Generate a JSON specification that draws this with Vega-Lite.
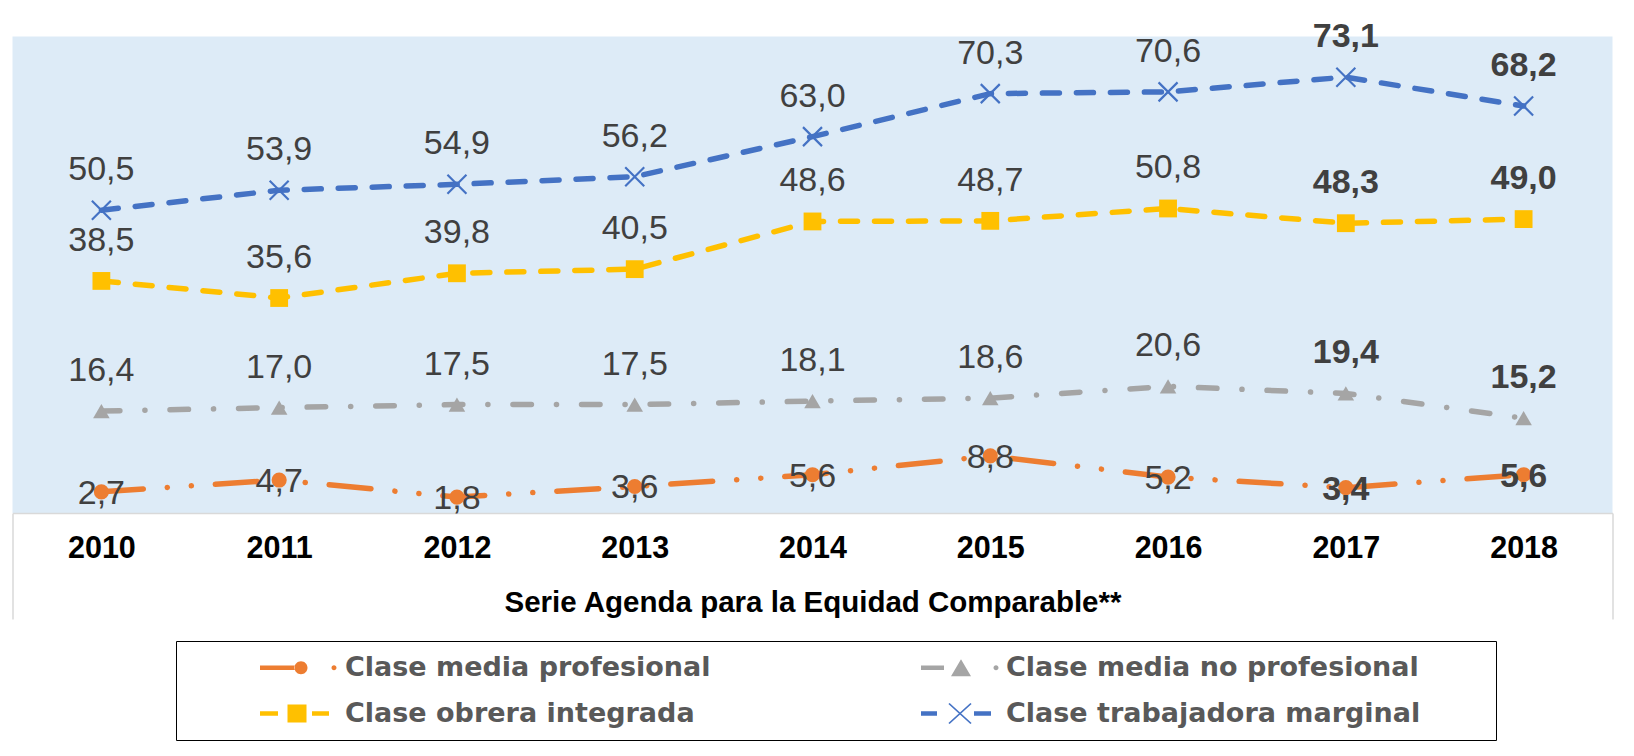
{
  "$schema": "https://vega.github.io/schema/vega-lite/v6.json",
  "width": 1600,
  "height": 476.5,
  "autosize": {"type": "none"},
  "padding": {"left": 12.5, "top": 36.5, "right": 21.5, "bottom": 243},
  "background": "#ffffff",
  "config": {
    "view": {"stroke": null, "fill": "#DDEBF7"},
    "locale": {"number": {"decimal": ",", "thousands": ".", "grouping": [3], "currency": ["", " €"]}}
  },
  "data": {
    "values": [
      {"year": 2010, "serie": "Clase trabajadora marginal", "value": 50.5},
      {"year": 2011, "serie": "Clase trabajadora marginal", "value": 53.9},
      {"year": 2012, "serie": "Clase trabajadora marginal", "value": 54.9},
      {"year": 2013, "serie": "Clase trabajadora marginal", "value": 56.2},
      {"year": 2014, "serie": "Clase trabajadora marginal", "value": 63.0},
      {"year": 2015, "serie": "Clase trabajadora marginal", "value": 70.3},
      {"year": 2016, "serie": "Clase trabajadora marginal", "value": 70.6},
      {"year": 2017, "serie": "Clase trabajadora marginal", "value": 73.1},
      {"year": 2018, "serie": "Clase trabajadora marginal", "value": 68.2},
      {"year": 2010, "serie": "Clase obrera integrada", "value": 38.5},
      {"year": 2011, "serie": "Clase obrera integrada", "value": 35.6},
      {"year": 2012, "serie": "Clase obrera integrada", "value": 39.8},
      {"year": 2013, "serie": "Clase obrera integrada", "value": 40.5},
      {"year": 2014, "serie": "Clase obrera integrada", "value": 48.6},
      {"year": 2015, "serie": "Clase obrera integrada", "value": 48.7},
      {"year": 2016, "serie": "Clase obrera integrada", "value": 50.8},
      {"year": 2017, "serie": "Clase obrera integrada", "value": 48.3},
      {"year": 2018, "serie": "Clase obrera integrada", "value": 49.0},
      {"year": 2010, "serie": "Clase media no profesional", "value": 16.4},
      {"year": 2011, "serie": "Clase media no profesional", "value": 17.0},
      {"year": 2012, "serie": "Clase media no profesional", "value": 17.5},
      {"year": 2013, "serie": "Clase media no profesional", "value": 17.5},
      {"year": 2014, "serie": "Clase media no profesional", "value": 18.1},
      {"year": 2015, "serie": "Clase media no profesional", "value": 18.6},
      {"year": 2016, "serie": "Clase media no profesional", "value": 20.6},
      {"year": 2017, "serie": "Clase media no profesional", "value": 19.4},
      {"year": 2018, "serie": "Clase media no profesional", "value": 15.2},
      {"year": 2010, "serie": "Clase media profesional", "value": 2.7},
      {"year": 2011, "serie": "Clase media profesional", "value": 4.7},
      {"year": 2012, "serie": "Clase media profesional", "value": 1.8},
      {"year": 2013, "serie": "Clase media profesional", "value": 3.6},
      {"year": 2014, "serie": "Clase media profesional", "value": 5.6},
      {"year": 2015, "serie": "Clase media profesional", "value": 8.8},
      {"year": 2016, "serie": "Clase media profesional", "value": 5.2},
      {"year": 2017, "serie": "Clase media profesional", "value": 3.4},
      {"year": 2018, "serie": "Clase media profesional", "value": 5.6}
    ]
  },
  "encoding": {
    "x": {
      "field": "year",
      "type": "ordinal",
      "bandPosition": 0.5,
      "scale": {"type": "band", "paddingInner": 0, "paddingOuter": 0},
      "axis": {
        "title": "Serie Agenda para la Equidad Comparable**",
        "titleFont": "Liberation Sans",
        "titleFontSize": 29.5,
        "titleFontWeight": "bold",
        "titleColor": "#000000",
        "titleY": 89,
        "titleBaseline": "middle",
        "labelFont": "Liberation Sans",
        "labelFontSize": 30.5,
        "labelFontWeight": "bold",
        "labelColor": "#000000",
        "labelAngle": 0,
        "labelBaseline": "middle",
        "labelPadding": -71,
        "domainColor": "#D9D9D9",
        "domainWidth": 1.5,
        "ticks": true,
        "tickBand": "extent",
        "tickSize": 106,
        "tickColor": "#D9D9D9",
        "tickWidth": 1.5,
        "tickOpacity": {"condition": {"test": "datum.index < 0 || datum.index >= 1", "value": 1}, "value": 0},
        "grid": false
      }
    },
    "y": {
      "field": "value",
      "type": "quantitative",
      "scale": {"domain": [-0.9, 80], "nice": false, "zero": false},
      "axis": null
    }
  },
  "resolve": {"scale": {"color": "independent", "shape": "independent"}},
  "layer": [
    {
      "mark": {"type": "line", "strokeWidth": 5.5, "strokeCap": "round", "strokeJoin": "round"},
      "encoding": {
        "color": {
          "field": "serie",
          "type": "nominal",
          "scale": {
            "domain": ["Clase media profesional", "Clase media no profesional", "Clase obrera integrada", "Clase trabajadora marginal"],
            "range": ["#ED7D31", "#A5A5A5", "#FFC000", "#4472C4"]
          },
          "legend": null
        },
        "strokeDash": {
          "field": "serie",
          "type": "nominal",
          "scale": {
            "domain": ["Clase media profesional", "Clase media no profesional", "Clase obrera integrada", "Clase trabajadora marginal"],
            "range": [[42, 24, 0.1, 24, 0.1, 24], [18.5, 25, 0.1, 25], [17, 17], [17, 17]]
          },
          "legend": null
        }
      }
    },
    {
      "mark": {"type": "point", "filled": true, "opacity": 1},
      "encoding": {
        "color": {
          "field": "serie",
          "type": "nominal",
          "scale": {
            "domain": ["Clase media profesional", "Clase media no profesional", "Clase obrera integrada", "Clase trabajadora marginal"],
            "range": ["#ED7D31", "#A5A5A5", "#FFC000", "#4472C4"]
          },
          "legend": null
        },
        "shape": {
          "field": "serie",
          "type": "nominal",
          "scale": {
            "domain": ["Clase media profesional", "Clase media no profesional", "Clase obrera integrada", "Clase trabajadora marginal"],
            "range": ["circle", "triangle-up", "square", "M-0.92,-1.08L1.08,0.92L0.92,1.08L-1.08,-0.92Z M-0.92,1.08L-1.08,0.92L0.92,-1.08L1.08,-0.92Z"]
          },
          "legend": null
        },
        "size": {
          "field": "serie",
          "type": "nominal",
          "scale": {
            "domain": ["Clase media profesional", "Clase media no profesional", "Clase obrera integrada", "Clase trabajadora marginal"],
            "range": [230, 361, 300, 324]
          },
          "legend": null
        }
      }
    },
    {
      "mark": {
        "type": "text",
        "font": "Liberation Sans",
        "fontSize": 34,
        "align": "center",
        "baseline": "alphabetic",
        "dy": {"expr": "datum.serie === 'Clase media profesional' ? 12 : -30"},
        "fontWeight": {"expr": "datum.year >= 2017 ? 'bold' : 'normal'"}
      },
      "encoding": {
        "text": {"field": "value", "type": "quantitative", "format": ".1f"},
        "color": {"value": "#404040"}
      }
    },
    {
      "transform": [{"filter": "datum.value < -1000"}],
      "mark": {"type": "point", "filled": true, "opacity": 1},
      "encoding": {
        "color": {
          "field": "serie",
          "type": "nominal",
          "scale": {
            "domain": ["Clase media profesional", "Clase media no profesional", "Clase obrera integrada", "Clase trabajadora marginal"],
            "range": ["#ED7D31", "#A5A5A5", "#FFC000", "#4472C4"]
          },
          "legend": {
            "title": null,
            "orient": "none",
            "legendX": 163.5,
            "legendY": 604.5,
            "direction": "horizontal",
            "columns": 2,
            "padding": 13,
            "rowPadding": 18,
            "columnPadding": 139,
            "strokeColor": "#000000",
            "symbolSize": 400,
            "symbolStrokeWidth": 0,
            "symbolOpacity": 1,
            "symbolOffset": 94.5,
            "labelOffset": 34.5,
            "labelFont": "DejaVu Sans",
            "labelFontSize": 27,
            "labelFontWeight": "bold",
            "labelColor": "#595959",
            "labelLimit": 1000
          }
        },
        "shape": {
          "field": "serie",
          "type": "nominal",
          "scale": {
            "domain": ["Clase media profesional", "Clase media no profesional", "Clase obrera integrada", "Clase trabajadora marginal"],
            "range": [
              "M-3.7,-0.22H-0.2V0.22H-3.7Z M-0.25,0A0.65,0.65 0 1,0 1.05,0A0.65,0.65 0 1,0 -0.25,0Z M3.45,0A0.25,0.25 0 1,0 3.95,0A0.25,0.25 0 1,0 3.45,0Z",
              "M-3.7,-0.22H-1.4V0.22H-3.7Z M0.3,-0.85L1.3,0.85L-0.7,0.85Z M3.55,0A0.25,0.25 0 1,0 4.05,0A0.25,0.25 0 1,0 3.55,0Z M52.5,0Z",
              "M-3.7,-0.22H-1.9V0.22H-3.7Z M-0.95,-0.9H0.95V0.9H-0.95Z M1.5,-0.22H3.2V0.22H1.5Z",
              "M-3.7,-0.22H-2.1V0.22H-3.7Z M1.6,-0.22H3.3V0.22H1.6Z M-0.84,-1.06L1.36,0.94L1.24,1.06L-0.96,-0.94Z M-0.84,1.06L-0.96,0.94L1.24,-1.06L1.36,-0.94Z M52.5,0Z"
            ]
          },
          "legend": {
            "title": null,
            "orient": "none",
            "legendX": 163.5,
            "legendY": 604.5,
            "direction": "horizontal",
            "columns": 2,
            "padding": 13,
            "rowPadding": 18,
            "columnPadding": 139,
            "strokeColor": "#000000",
            "symbolSize": 400,
            "symbolStrokeWidth": 0,
            "symbolOpacity": 1,
            "symbolOffset": 94.5,
            "labelOffset": 34.5,
            "labelFont": "DejaVu Sans",
            "labelFontSize": 27,
            "labelFontWeight": "bold",
            "labelColor": "#595959",
            "labelLimit": 1000
          }
        }
      }
    }
  ]
}
